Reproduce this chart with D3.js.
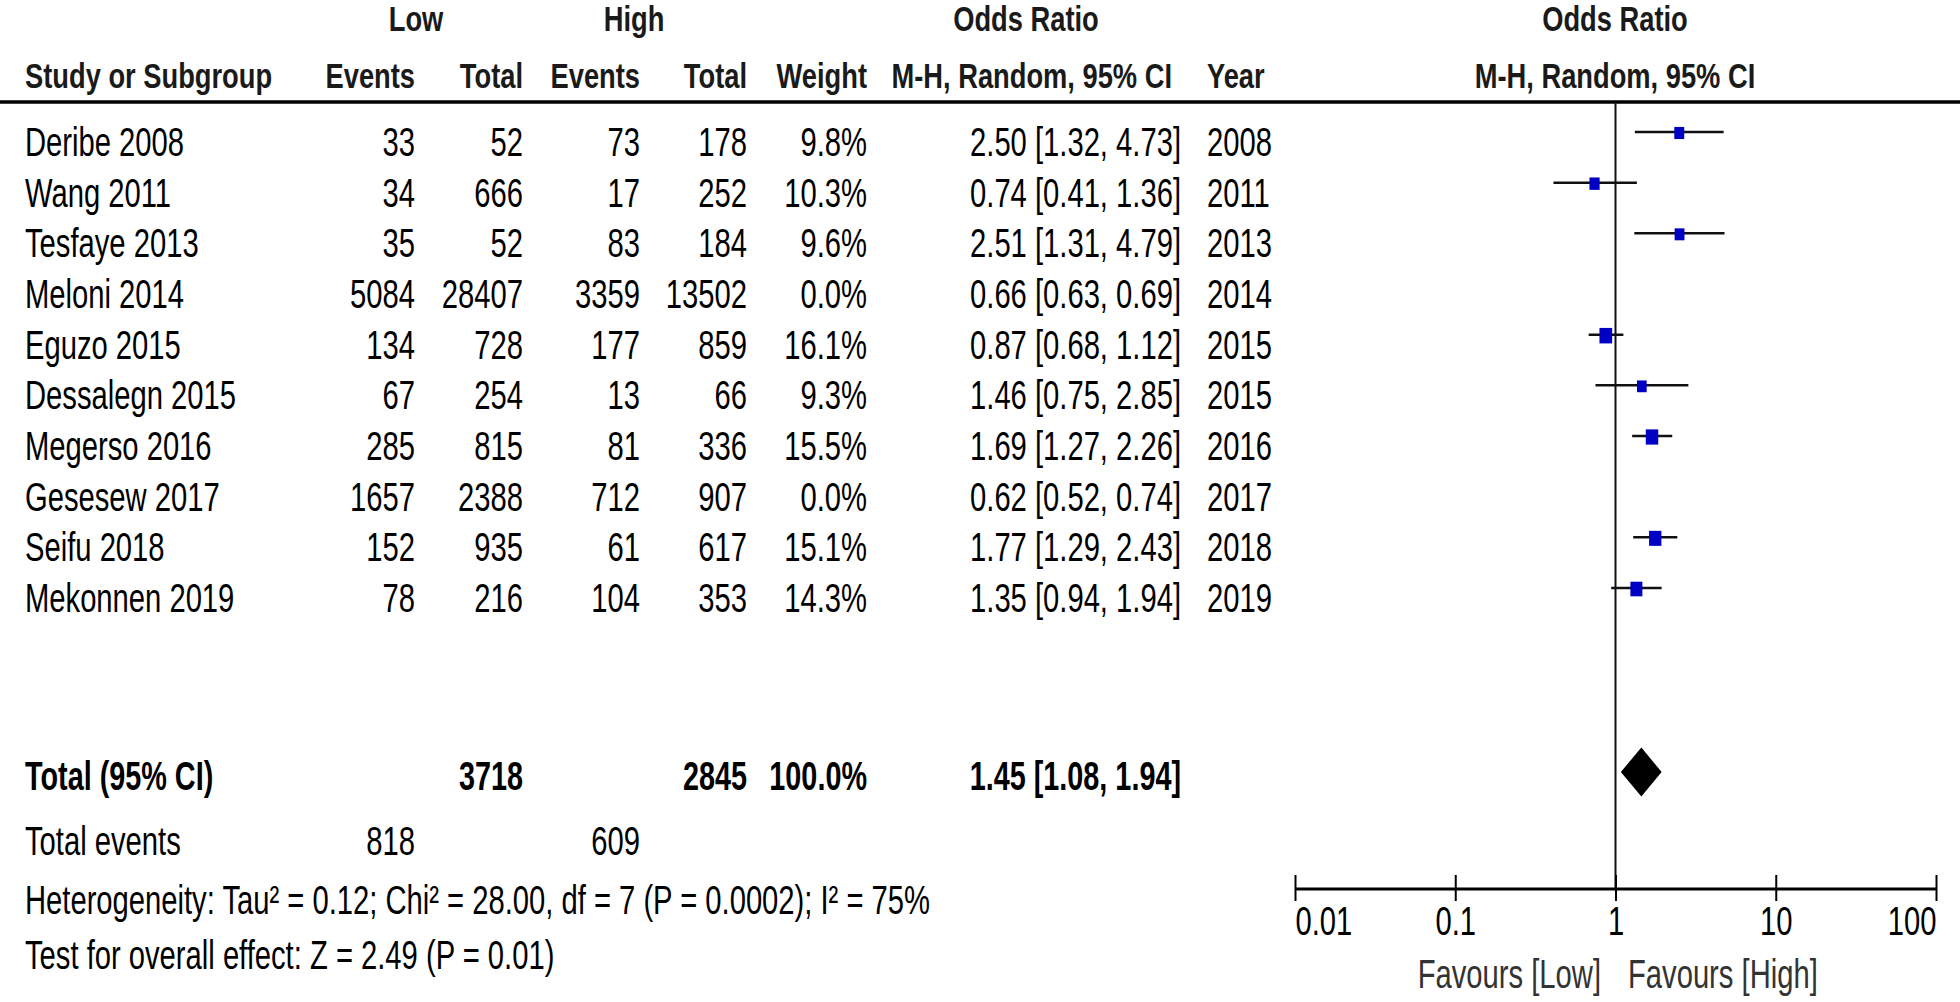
<!DOCTYPE html>
<html lang="en">
  <head>
    <meta charset="utf-8">
    <title>forest_plot_low_high</title>
    <script src="https://d3js.org/d3.v7.min.js"></script>
    <style>
      body { margin: 0; background: #fff; }
      text { font-family: "Liberation Sans", Arial, sans-serif; }
    </style>
  </head>

  <body>

  <script>

// Study data

  var studies = ["Deribe 2008", "Wang 2011", "Tesfaye 2013", "Meloni 2014", "Eguzo 2015",
      "Dessalegn 2015", "Megerso 2016", "Gesesew 2017", "Seifu 2018", "Mekonnen 2019"];
  var lowEvents = [33, 34, 35, 5084, 134, 67, 285, 1657, 152, 78];
  var lowTotal = [52, 666, 52, 28407, 728, 254, 815, 2388, 935, 216];
  var highEvents = [73, 17, 83, 3359, 177, 13, 81, 712, 61, 104];
  var highTotal = [178, 252, 184, 13502, 859, 66, 336, 907, 617, 353];
  var weights = [9.8, 10.3, 9.6, 0.0, 16.1, 9.3, 15.5, 0.0, 15.1, 14.3];
  var oddsRatio = [2.50, 0.74, 2.51, 0.66, 0.87, 1.46, 1.69, 0.62, 1.77, 1.35];
  var ciLow = [1.32, 0.41, 1.31, 0.63, 0.68, 0.75, 1.27, 0.52, 1.29, 0.94];
  var ciHigh = [4.73, 1.36, 4.79, 0.69, 1.12, 2.85, 2.26, 0.74, 2.43, 1.94];
  var years = [2008, 2011, 2013, 2014, 2015, 2015, 2016, 2017, 2018, 2019];

  var pooledOR = [1.45, 1.08, 1.94];   // estimate, lower, upper
  var totals = [3718, 2845];           // low, high
  var totalEvents = [818, 609];        // low, high
  var totalWeight = 100.0;

  var axisTicks = [0.01, 0.1, 1, 10, 100];
  var axisTickLabels = ["0.01", "0.1", "1", "10", "100"];

  var heterogeneity = "Heterogeneity: Tau\u00B2 = 0.12; Chi\u00B2 = 28.00, df = 7 (P = 0.0002); I\u00B2 = 75%";
  var overallEffect = "Test for overall effect: Z = 2.49 (P = 0.01)";

  var w = 1960;
  var h = 1002;

  var svg = d3.select("body")
    .append("svg")
      .attr("width", w)
      .attr("height", h);

  // text is drawn narrow, like the original export
  var bodySize = 40, bodySx = 0.73;
  var headSize = 35, headSx = 0.78;

  function label(x, y, str, opts) {
    opts = opts || {};
    var bold = opts.bold;
    var size = opts.size || (opts.head ? headSize : bodySize);
    var sx = opts.sx || (opts.head ? headSx : bodySx);
    return svg.append("text")
        .attr("transform", `translate(${x},${y}) scale(${sx},1)`)
        .attr("text-anchor", opts.anchor || "start")
        .attr("font-size", size)
        .attr("font-weight", (bold || opts.head) ? "bold" : "normal")
        .attr("fill", opts.fill || (opts.head ? "#1a1a1a" : "#000"))
        .text(str);
  }

  // column positions
  var col = {name: 25, evLow: 415, totLow: 523, evHigh: 640, totHigh: 747,
      weight: 867, or: 1181, year: 1207, plot: 1615};

  // rows
  var yRow = d3.scaleLinear()
      .domain([0, studies.length - 1])
      .range([156, 612]);

  var xScale = d3.scaleLog()
      .domain([0.01, 100])
      .range([1295, 1936]);

  var size = d3.scaleSqrt()
      .domain([0, d3.max(weights)])
      .range([0, 15.5]);

  var fmt2 = d3.format(".2f");
  var fmtW = function(v) { return d3.format(".1f")(v) + "%"; };

  // headers
  label(416, 31, "Low", {head: true, anchor: "middle"});
  label(634, 31, "High", {head: true, anchor: "middle"});
  label(1026, 31, "Odds Ratio", {head: true, anchor: "middle"});
  label(col.plot, 31, "Odds Ratio", {head: true, anchor: "middle"});

  label(col.name, 88, "Study or Subgroup", {head: true});
  label(col.evLow, 88, "Events", {head: true, anchor: "end"});
  label(col.totLow, 88, "Total", {head: true, anchor: "end"});
  label(col.evHigh, 88, "Events", {head: true, anchor: "end"});
  label(col.totHigh, 88, "Total", {head: true, anchor: "end"});
  label(col.weight, 88, "Weight", {head: true, anchor: "end"});
  label(1172, 88, "M-H, Random, 95% CI", {head: true, anchor: "end"});
  label(col.year, 88, "Year", {head: true});
  label(col.plot, 88, "M-H, Random, 95% CI", {head: true, anchor: "middle"});

  svg.append("line")
      .attr("x1", 0).attr("x2", w)
      .attr("y1", 102).attr("y2", 102)
      .attr("stroke", "#000")
      .attr("stroke-width", 3.5);

  // study rows
  studies.forEach(function(s, i) {
    var y = yRow(i);
    label(col.name, y, s);
    label(col.evLow, y, lowEvents[i], {anchor: "end"});
    label(col.totLow, y, lowTotal[i], {anchor: "end"});
    label(col.evHigh, y, highEvents[i], {anchor: "end"});
    label(col.totHigh, y, highTotal[i], {anchor: "end"});
    label(col.weight, y, fmtW(weights[i]), {anchor: "end"});
    label(col.or, y, fmt2(oddsRatio[i]) + " [" + fmt2(ciLow[i]) + ", " + fmt2(ciHigh[i]) + "]", {anchor: "end"});
    label(col.year, y, years[i]);
  });

  // totals
  var yTot = 790;
  label(col.name, yTot, "Total (95% CI)", {bold: true, sx: 0.72});
  label(col.totLow, yTot, totals[0], {bold: true, sx: 0.72, anchor: "end"});
  label(col.totHigh, yTot, totals[1], {bold: true, sx: 0.72, anchor: "end"});
  label(col.weight, yTot, fmtW(totalWeight), {bold: true, sx: 0.72, anchor: "end"});
  label(col.or, yTot, fmt2(pooledOR[0]) + " [" + fmt2(pooledOR[1]) + ", " + fmt2(pooledOR[2]) + "]", {bold: true, sx: 0.72, anchor: "end"});

  label(col.name, 855, "Total events");
  label(col.evLow, 855, totalEvents[0], {anchor: "end"});
  label(col.evHigh, 855, totalEvents[1], {anchor: "end"});
  label(col.name, 914, heterogeneity);
  label(col.name, 969, overallEffect);

  // plot: line of no effect
  var axisY = 889;
  svg.append("line")
      .attr("x1", xScale(1)).attr("x2", xScale(1))
      .attr("y1", 102).attr("y2", axisY)
      .attr("stroke", "#111")
      .attr("stroke-width", 2);

  var plotted = d3.range(studies.length).filter(function(i) { return weights[i] > 0; });

  var marks = svg.append("g").attr("id", "plot");
  var markOffset = 24;

  marks.selectAll("line.ci")
      .data(plotted)
    .enter().append("line")
      .attr("class", "ci")
      .attr("x1", i => xScale(ciLow[i]))
      .attr("x2", i => xScale(ciHigh[i]))
      .attr("y1", i => yRow(i) - markOffset)
      .attr("y2", i => yRow(i) - markOffset)
      .attr("stroke", "#111")
      .attr("stroke-width", 2.5);

  marks.selectAll("rect")
      .data(plotted)
    .enter().append("rect")
      .attr("x", i => xScale(oddsRatio[i]) - size(weights[i]) * 0.41)
      .attr("y", i => yRow(i) - markOffset - size(weights[i]) / 2 + 1)
      .attr("width", i => size(weights[i]) * 0.82)
      .attr("height", i => size(weights[i]))
      .attr("fill", "#0000c4");

  // pooled diamond
  var dY = 772, dH = 24.5;
  svg.append("path")
      .attr("d", "M" + xScale(pooledOR[1]) + "," + dY +
          "L" + xScale(pooledOR[0]) + "," + (dY - dH) +
          "L" + xScale(pooledOR[2]) + "," + dY +
          "L" + xScale(pooledOR[0]) + "," + (dY + dH) + "Z")
      .attr("fill", "#000");

  // axis
  var xAxis = d3.axisBottom(xScale)
      .tickValues(axisTicks)
      .tickSize(12)
      .tickFormat((d, i) => axisTickLabels[i]);

  var gx = svg.append("g")
      .attr("transform", `translate(0, ${axisY})`)
      .call(xAxis);

  gx.select(".domain")
      .attr("d", `M${xScale.range()[0]},0H${xScale.range()[1]}`)
      .attr("stroke", "#000")
      .attr("stroke-width", 3);
  gx.selectAll(".tick line")
      .attr("y1", -14)
      .attr("y2", 12)
      .attr("stroke", "#000")
      .attr("stroke-width", 2);
  gx.selectAll(".tick text")
      .attr("y", 0)
      .attr("dy", 0)
      .attr("font-family", "Liberation Sans, Arial, sans-serif")
      .attr("font-size", bodySize)
      .attr("fill", "#000")
      .attr("text-anchor", (d, i) => i === 0 ? "start" : (i === axisTicks.length - 1 ? "end" : "middle"))
      .attr("transform", "translate(0, 46) scale(" + bodySx + ",1)");

  label(1601, 988, "Favours [Low]", {anchor: "end", fill: "#333"});
  label(1628, 988, "Favours [High]", {fill: "#333"});

    </script>

  </body>

</html>
